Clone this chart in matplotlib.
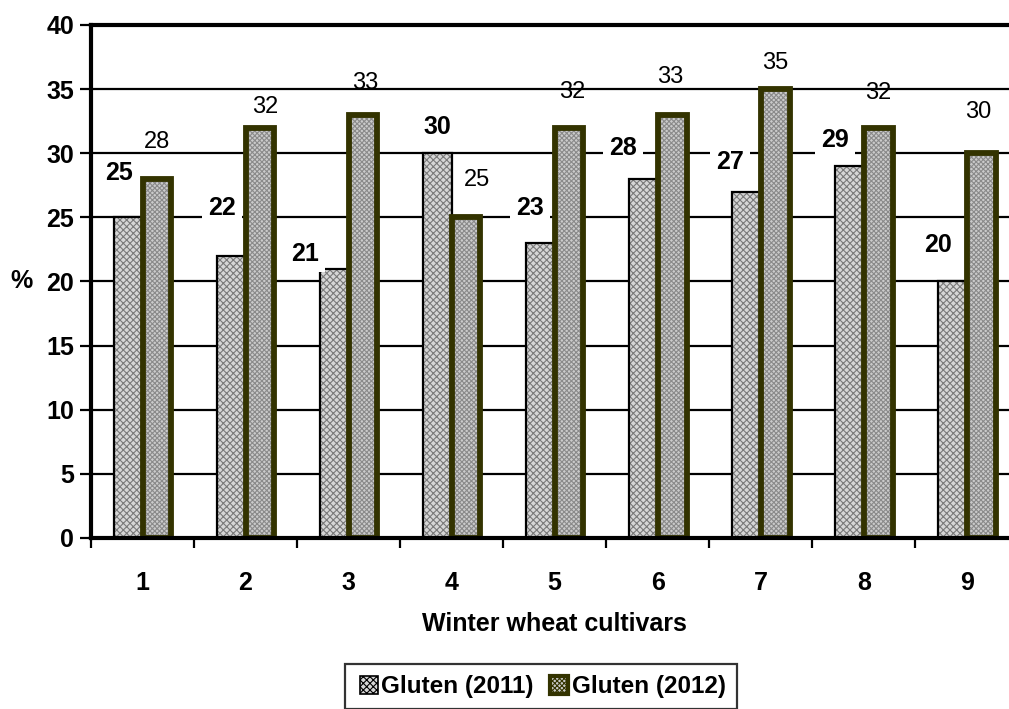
import numpy as np
import matplotlib.pyplot as plt
from matplotlib.patches import Patch
from matplotlib.legend_handler import HandlerPatch

plt.rcParams['font.family'] = ['Liberation Sans', 'DejaVu Sans']
plt.rcParams['hatch.linewidth'] = 0.8

cultivars = ['1', '2', '3', '4', '5', '6', '7', '8', '9']
gluten_2011 = [25, 22, 21, 30, 23, 28, 27, 29, 20]
gluten_2012 = [28, 32, 33, 25, 32, 33, 35, 32, 30]

# hand-placed label nudges (pixels): (dx, dy) from the top centre of each bar
nudge_2011 = [(-9, 44), (-9, 48), (-29, 15), (0, 26), (-10, 35), (-20, 31), (-16, 30), (-14, 26), (-14, 36)]
nudge_2012 = [(0, 37), (5, 21), (2, 32), (11, 37), (3, 36), (-2, 38), (0, 26), (0, 35), (-3, 41)]

olive = '#333300'
fill11 = '#d6d6d6'
fill12 = '#cbcbcb'
w = 0.28
x = np.arange(1, len(cultivars) + 1)
fs = 18

fig = plt.figure(figsize=(10.09, 7.09), dpi=100)
ax = fig.add_axes([0.0902, 0.2412, 0.919, 0.7236])

# gridlines
ax.set_ylim(0, 40)
ax.set_xlim(0.5, len(cultivars) + 0.5)
ax.set_yticks(np.arange(0, 41, 5))
ax.yaxis.grid(True, color='black', linewidth=1.6, zorder=0)
ax.set_axisbelow(True)

x11 = x - w / 2
x12 = x + w / 2

# 2011: coarse stipple with thin black outline
ax.bar(x11, gluten_2011, w, color=fill11, edgecolor='#7a7a7a', hatch='xxxxx', linewidth=0, zorder=2)
ax.bar(x11, gluten_2011, w, fill=False, edgecolor='black', linewidth=1.6, zorder=3)
# 2012: fine stipple with heavy olive outline
ax.bar(x12, gluten_2012, w, color=fill12, edgecolor='#8a8a8a', hatch='xxxxxxx', linewidth=0, zorder=2)
ax.bar(x12, gluten_2012, w, fill=False, edgecolor=olive, linewidth=4.2, zorder=3)

for xi, v, (dx, dy) in zip(x11, gluten_2011, nudge_2011):
    ax.annotate(str(v), (xi, v), xytext=(dx, dy), textcoords='offset pixels',
                ha='center', va='center', fontsize=fs, fontweight='bold', zorder=5,
                bbox=dict(boxstyle='square,pad=0.25', facecolor='white', edgecolor='none'))
for xi, v, (dx, dy) in zip(x12, gluten_2012, nudge_2012):
    ax.annotate(str(v), (xi, v), xytext=(dx, dy), textcoords='offset pixels',
                ha='center', va='center', fontsize=17, zorder=5)

# axes frame
ax.spines['right'].set_visible(False)
ax.spines['left'].set_linewidth(3)
ax.spines['bottom'].set_linewidth(3)
ax.spines['top'].set_linewidth(3)
ax.spines['bottom'].set_zorder(4)

ax.tick_params(axis='y', length=8, width=1.6, labelsize=fs, pad=4)
for lbl in ax.get_yticklabels():
    lbl.set_fontweight('bold')

# category labels in the middle, tick marks on the boundaries
ax.set_xticks(x)
ax.set_xticklabels(cultivars, fontsize=fs, fontweight='bold')
ax.tick_params(axis='x', which='major', length=0, pad=24)
ax.set_xticks(np.arange(0.5, len(cultivars) + 0.5, 1), minor=True)
ax.tick_params(axis='x', which='minor', length=7, width=1.6)

ax.set_xlabel('Winter wheat cultivars', fontsize=fs, fontweight='bold', labelpad=12)
ax.set_ylabel('%', fontsize=fs, fontweight='bold', rotation=0, va='center')
ax.yaxis.set_label_coords(-0.075, 0.5)


class SquareHandler(HandlerPatch):
    def create_artists(self, legend, orig_handle, xdescent, ydescent, width, height, fontsize, trans):
        s = height * 1.05
        p = plt.Rectangle((xdescent + (width - s), ydescent + (height - s) / 2), s, s,
                          facecolor=orig_handle.get_facecolor(), edgecolor=orig_handle.get_edgecolor(),
                          hatch=orig_handle.get_hatch(), linewidth=orig_handle.get_linewidth(),
                          transform=trans)
        return [p]


h11 = Patch(facecolor=fill11, edgecolor='black', hatch='xxxxx', linewidth=1.2)
h12 = Patch(facecolor=fill12, edgecolor=olive, hatch='xxxxxxx', linewidth=3)
leg = fig.legend([h11, h12], ['Gluten (2011)', 'Gluten (2012)'], loc='upper center',
                 bbox_to_anchor=(0.536, 0.08), ncol=2, frameon=True, fancybox=False,
                 prop={'size': 17.5, 'weight': 'bold'}, handlelength=0.9, handletextpad=0.15,
                 columnspacing=0.5, borderpad=0.45,
                 handler_map={Patch: SquareHandler()})
leg.get_frame().set_edgecolor('black')
leg.get_frame().set_linewidth(1.6)

fig.savefig('out.png', dpi=100)
